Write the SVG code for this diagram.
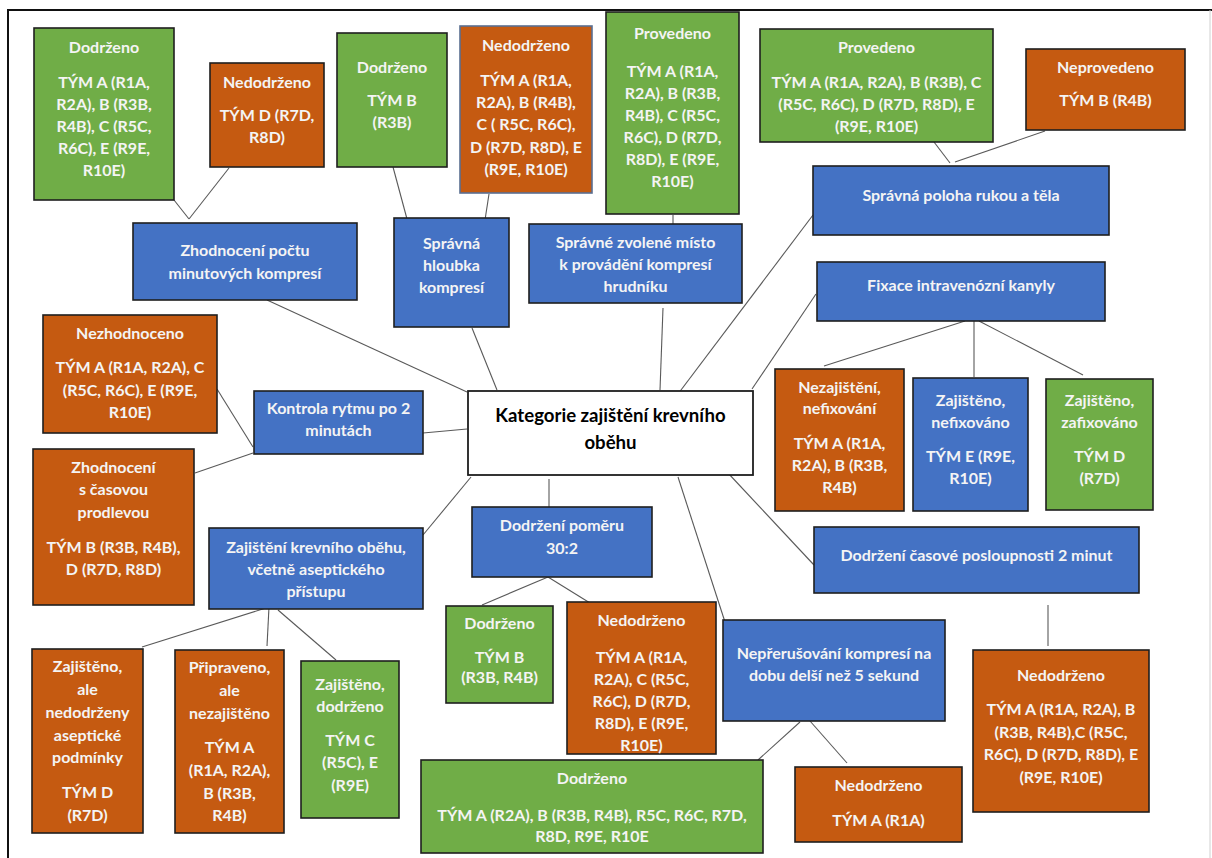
<svg xmlns="http://www.w3.org/2000/svg" width="1212" height="858" viewBox="0 0 1212 858">
<style>
.g{fill:#70AD47;stroke:#1e1e1e;stroke-width:1.6}
.o{fill:#C55A11;stroke:#1e1e1e;stroke-width:1.6}
.b{fill:#4472C4;stroke:#1e1e1e;stroke-width:1.6}
.w{fill:#ffffff;stroke:#1e1e1e;stroke-width:1.8}
text{font-family:Lato,"Liberation Sans",sans-serif;font-weight:700;font-size:16px;fill:#f4f4f4;text-anchor:middle}
.t{fill:#000;font-size:18.6px}
#connectors line{stroke:#595959;stroke-width:1.1}
</style>
<rect x="0" y="0" width="1212" height="858" fill="#ffffff"/>
<path d="M8,858 V10 H1212" fill="none" stroke="#111" stroke-width="2"/>
<line x1="1210" y1="10" x2="1210" y2="858" stroke="#d0d0d0" stroke-width="1"/>

<g id="connectors">
<line x1="174" y1="200" x2="189" y2="219"/>
<line x1="229" y1="168" x2="189" y2="219"/>
<line x1="393" y1="167" x2="407" y2="219"/>
<line x1="489" y1="194" x2="485" y2="220"/>
<line x1="673" y1="215" x2="673" y2="224"/>
<line x1="934" y1="142" x2="950" y2="163"/>
<line x1="1045" y1="131" x2="955" y2="162"/>
<line x1="267" y1="300" x2="467" y2="392"/>
<line x1="472" y1="328" x2="497" y2="390"/>
<line x1="663" y1="308" x2="660" y2="390"/>
<line x1="678" y1="394" x2="813" y2="215"/>
<line x1="752" y1="389" x2="816" y2="294"/>
<line x1="217" y1="389" x2="253" y2="447"/>
<line x1="195" y1="473" x2="253" y2="453"/>
<line x1="423" y1="433" x2="467" y2="429"/>
<line x1="423" y1="535" x2="471" y2="477"/>
<line x1="549" y1="479" x2="549" y2="507"/>
<line x1="678" y1="477" x2="725" y2="622"/>
<line x1="728" y1="473" x2="814" y2="565"/>
<line x1="965" y1="321" x2="824" y2="366"/>
<line x1="974" y1="321" x2="974" y2="377"/>
<line x1="979" y1="321" x2="1083" y2="375"/>
<line x1="1048" y1="605" x2="1048" y2="646"/>
<line x1="548" y1="577" x2="482" y2="605"/>
<line x1="548" y1="577" x2="590" y2="603"/>
<line x1="810" y1="721" x2="847" y2="763"/>
<line x1="800" y1="722" x2="758" y2="760"/>
<line x1="269" y1="607" x2="142" y2="647"/>
<line x1="269" y1="607" x2="267" y2="646"/>
<line x1="278" y1="610" x2="336" y2="660"/>
</g>

<g id="n_dodrzeno_1">
<rect class="g" x="34" y="28" width="140" height="172"/>
<text x="104" y="53">Dodrženo</text>
<text x="104" y="88">TÝM A (R1A,</text>
<text x="104" y="110">R2A), B (R3B,</text>
<text x="104" y="132">R4B), C (R5C,</text>
<text x="104" y="154">R6C), E (R9E,</text>
<text x="104" y="176">R10E)</text>
</g>

<g id="n_nedodrzeno_d">
<rect class="o" x="210" y="63" width="114" height="104"/>
<text x="267" y="88">Nedodrženo</text>
<text x="267" y="121">TÝM D (R7D,</text>
<text x="267" y="143">R8D)</text>
</g>

<g id="n_dodrzeno_b">
<rect class="g" x="337" y="33" width="110" height="134"/>
<text x="392" y="73">Dodrženo</text>
<text x="392" y="106">TÝM B</text>
<text x="392" y="128">(R3B)</text>
</g>

<g id="n_nedodrzeno_top">
<rect class="o" x="460" y="26" width="132" height="167" style="stroke:#5a6f91"/>
<text x="526" y="51">Nedodrženo</text>
<text x="526" y="86">TÝM A (R1A,</text>
<text x="526" y="108">R2A), B (R4B),</text>
<text x="526" y="130">C ( R5C, R6C),</text>
<text x="526" y="153">D (R7D, R8D), E</text>
<text x="526" y="175">(R9E, R10E)</text>
</g>

<g id="n_provedeno_1">
<rect class="g" x="606" y="12" width="133" height="202"/>
<text x="672.5" y="39">Provedeno</text>
<text x="672.5" y="77">TÝM A (R1A,</text>
<text x="672.5" y="99">R2A), B (R3B,</text>
<text x="672.5" y="121">R4B), C (R5C,</text>
<text x="672.5" y="143">R6C), D (R7D,</text>
<text x="672.5" y="165">R8D), E (R9E,</text>
<text x="672.5" y="187">R10E)</text>
</g>

<g id="n_provedeno_2">
<rect class="g" x="760" y="29" width="233" height="113"/>
<text x="876.5" y="53">Provedeno</text>
<text x="876.5" y="88">TÝM A (R1A, R2A), B (R3B), C</text>
<text x="876.5" y="110">(R5C, R6C), D (R7D, R8D), E</text>
<text x="876.5" y="132">(R9E, R10E)</text>
</g>

<g id="n_neprovedeno">
<rect class="o" x="1026" y="49" width="159" height="81"/>
<text x="1105.5" y="73">Neprovedeno</text>
<text x="1105.5" y="106">TÝM B (R4B)</text>
</g>

<g id="n_zhodnoceni_poctu">
<rect class="b" x="133" y="223" width="224" height="77"/>
<text x="245" y="256">Zhodnocení počtu</text>
<text x="245" y="279">minutových kompresí</text>
</g>

<g id="n_hloubka">
<rect class="b" x="394" y="218" width="115" height="109"/>
<text x="451.5" y="249">Správná</text>
<text x="451.5" y="271">hloubka</text>
<text x="451.5" y="293">kompresí</text>
</g>

<g id="n_misto">
<rect class="b" x="529" y="224" width="213" height="79"/>
<text x="635.5" y="248">Správné zvolené místo</text>
<text x="635.5" y="270">k provádění kompresí</text>
<text x="635.5" y="292">hrudníku</text>
</g>

<g id="n_poloha">
<rect class="b" x="813" y="166" width="296" height="69"/>
<text x="961" y="201">Správná poloha rukou a těla</text>
</g>

<g id="n_fixace">
<rect class="b" x="817" y="262" width="288" height="59"/>
<text x="961" y="291">Fixace intravenózní kanyly</text>
</g>

<g id="n_nezhodnoceno">
<rect class="o" x="43" y="315" width="174" height="118"/>
<text x="130" y="339">Nezhodnoceno</text>
<text x="130" y="373">TÝM A (R1A, R2A), C</text>
<text x="130" y="396">(R5C, R6C), E (R9E,</text>
<text x="130" y="418">R10E)</text>
</g>

<g id="n_kontrola">
<rect class="b" x="254" y="391" width="169" height="63"/>
<text x="338.5" y="414">Kontrola rytmu po 2</text>
<text x="338.5" y="436">minutách</text>
</g>

<g id="n_central">
<rect class="w" x="468" y="391" width="285" height="84"/>
<text class="t" x="610.5" y="422">Kategorie zajištění krevního</text>
<text class="t" x="610.5" y="449">oběhu</text>
</g>

<g id="n_zhodnoceni_cas">
<rect class="o" x="33" y="449" width="161" height="156"/>
<text x="113.5" y="473">Zhodnocení</text>
<text x="113.5" y="495">s časovou</text>
<text x="113.5" y="518">prodlevou</text>
<text x="113.5" y="553">TÝM B (R3B, R4B),</text>
<text x="113.5" y="575">D (R7D, R8D)</text>
</g>

<g id="n_zajisteni">
<rect class="b" x="209" y="528" width="214" height="81"/>
<text x="316" y="553">Zajištění krevního oběhu,</text>
<text x="316" y="575">včetně aseptického</text>
<text x="316" y="597">přístupu</text>
</g>

<g id="n_pomer">
<rect class="b" x="472" y="507" width="180" height="70"/>
<text x="562" y="531">Dodržení poměru</text>
<text x="562" y="554">30:2</text>
</g>

<g id="n_nezajisteni">
<rect class="o" x="775" y="369" width="129" height="142"/>
<text x="839.5" y="393">Nezajištění,</text>
<text x="839.5" y="414">nefixování</text>
<text x="839.5" y="449">TÝM A (R1A,</text>
<text x="839.5" y="471">R2A), B (R3B,</text>
<text x="839.5" y="493">R4B)</text>
</g>

<g id="n_zajisteno_nefix">
<rect class="b" x="913" y="378" width="115" height="133"/>
<text x="970.5" y="406">Zajištěno,</text>
<text x="970.5" y="428">nefixováno</text>
<text x="970.5" y="462">TÝM E (R9E,</text>
<text x="970.5" y="484">R10E)</text>
</g>

<g id="n_zajisteno_zafix">
<rect class="g" x="1046" y="379" width="107" height="131"/>
<text x="1099.5" y="406">Zajištěno,</text>
<text x="1099.5" y="428">zafixováno</text>
<text x="1099.5" y="462">TÝM D</text>
<text x="1099.5" y="484">(R7D)</text>
</g>

<g id="n_casove">
<rect class="b" x="814" y="527" width="325" height="66"/>
<text x="976.5" y="561">Dodržení časové posloupnosti 2 minut</text>
</g>

<g id="n_nedodrzeno_right">
<rect class="o" x="973" y="650" width="176" height="162"/>
<text x="1061" y="681">Nedodrženo</text>
<text x="1061" y="715">TÝM A (R1A, R2A), B</text>
<text x="1061" y="738">(R3B, R4B),C (R5C,</text>
<text x="1061" y="760">R6C), D (R7D, R8D), E</text>
<text x="1061" y="783">(R9E, R10E)</text>
</g>

<g id="n_dodrzeno_tymb">
<rect class="g" x="446" y="606" width="107" height="97"/>
<text x="499.5" y="629">Dodrženo</text>
<text x="499.5" y="663">TÝM B</text>
<text x="499.5" y="683">(R3B, R4B)</text>
</g>

<g id="n_nedodrzeno_mid">
<rect class="o" x="567" y="602" width="149" height="152"/>
<text x="641.5" y="626">Nedodrženo</text>
<text x="641.5" y="663">TÝM A (R1A,</text>
<text x="641.5" y="685">R2A), C (R5C,</text>
<text x="641.5" y="707">R6C), D (R7D,</text>
<text x="641.5" y="729">R8D), E (R9E,</text>
<text x="641.5" y="751">R10E)</text>
</g>

<g id="n_neprerusovani">
<rect class="b" x="723" y="620" width="222" height="101"/>
<text x="834" y="659">Nepřerušování kompresí na</text>
<text x="834" y="681">dobu delší než 5 sekund</text>
</g>

<g id="n_dodrzeno_big">
<rect class="g" x="421" y="760" width="342" height="93"/>
<text x="592" y="784">Dodrženo</text>
<text x="592" y="821">TÝM A (R2A), B (R3B, R4B), R5C, R6C, R7D,</text>
<text x="592" y="842">R8D, R9E, R10E</text>
</g>

<g id="n_nedodrzeno_r1a">
<rect class="o" x="795" y="767" width="167" height="75"/>
<text x="878.5" y="791">Nedodrženo</text>
<text x="878.5" y="826">TÝM A (R1A)</text>
</g>

<g id="n_zajisteno_ale">
<rect class="o" x="32" y="649" width="111" height="184"/>
<text x="87.5" y="672">Zajištěno,</text>
<text x="87.5" y="695">ale</text>
<text x="87.5" y="718">nedodrženy</text>
<text x="87.5" y="741">aseptické</text>
<text x="87.5" y="763">podmínky</text>
<text x="87.5" y="798">TÝM D</text>
<text x="87.5" y="821">(R7D)</text>
</g>

<g id="n_pripraveno">
<rect class="o" x="175" y="650" width="109" height="183"/>
<text x="229.5" y="673">Připraveno,</text>
<text x="229.5" y="696">ale</text>
<text x="229.5" y="719">nezajištěno</text>
<text x="229.5" y="753">TÝM A</text>
<text x="229.5" y="776">(R1A, R2A),</text>
<text x="229.5" y="799">B (R3B,</text>
<text x="229.5" y="821">R4B)</text>
</g>

<g id="n_zajisteno_dodrzeno">
<rect class="g" x="301" y="661" width="98" height="157"/>
<text x="350" y="690">Zajištěno,</text>
<text x="350" y="712">dodrženo</text>
<text x="350" y="746">TÝM C</text>
<text x="350" y="768">(R5C), E</text>
<text x="350" y="791">(R9E)</text>
</g>
</svg>
